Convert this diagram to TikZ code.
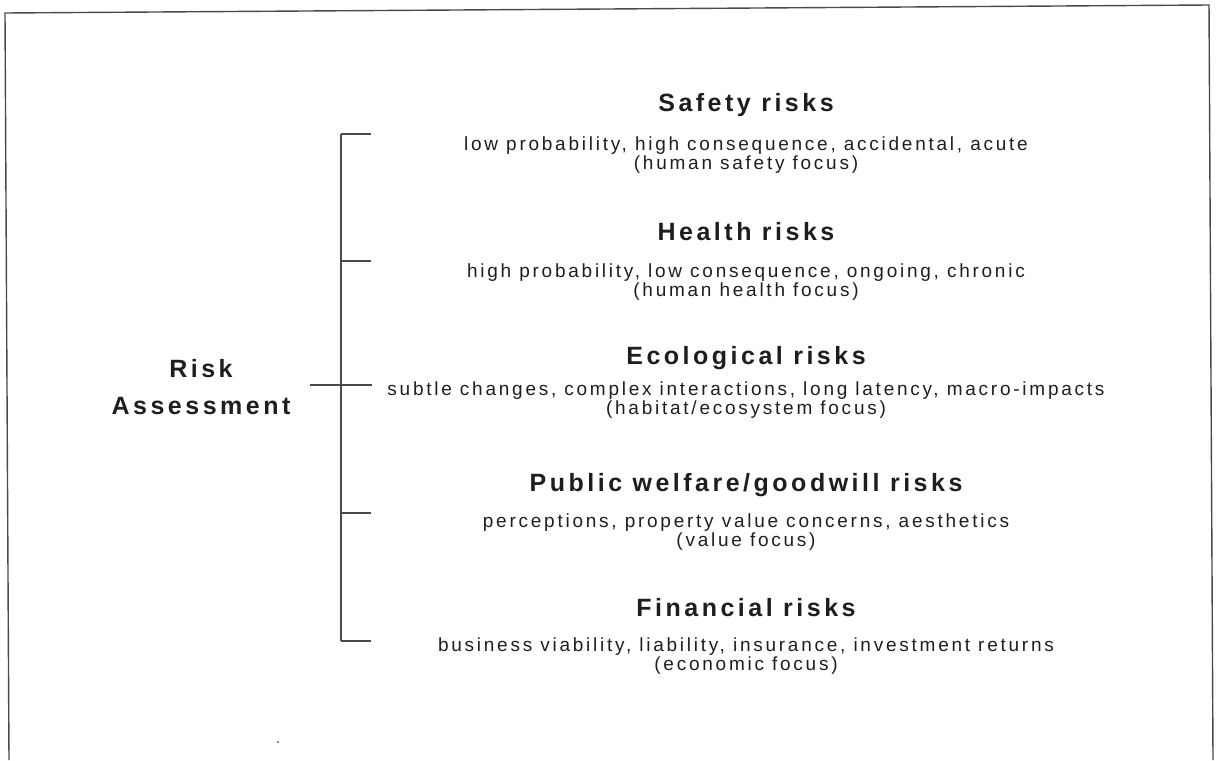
\documentclass[tikz,border=0pt]{standalone}
\usepackage{fontspec}
\newfontfamily\riskfont{Liberation Sans}[LetterSpace=14]
\newfontfamily\notefont{Liberation Sans}[LetterSpace=14.5]
\newcommand\tightlines{\lineskiplimit=-5pt\relax}
\definecolor{ink}{HTML}{1E1E1E}
\definecolor{rule}{HTML}{4A4A4A}

\tikzset{
  head/.style={font=\riskfont\bfseries\fontsize{12.5}{18.5}\selectfont, text=ink, inner sep=0pt, align=center},
  desc/.style={font=\notefont\fontsize{9.5}{9.4}\selectfont\tightlines, text=ink, inner sep=0pt, align=center},
  brace/.style={draw=rule, line width=0.6pt},
}

\begin{document}
\begin{tikzpicture}[x=0.5pt, y=-0.5pt]
\useasboundingbox (0,0) rectangle (1218,760);

%%%%%%%%%%%% Frame
\draw[rule, line width=0.7pt] (9,760) -- (5,13) -- (1209,5) -- (1213,760);
\fill[rule] (278,742) circle (1);

%%%%%%%%%%%% Root
\node[head] (root) at (201,387) {Risk\\Assessment};

%%%%%%%%%%%% Categories
\node[head] (safety) at (746,105) {Safety risks};
\node[desc] (safety-txt) at (746,155) {low probability, high consequence, accidental, acute\\(human safety focus)};

\node[head] (health) at (746,232) {Health risks};
\node[desc] (health-txt) at (746,282) {high probability, low consequence, ongoing, chronic\\(human health focus)};

\node[head] (eco) at (746,358) {Ecological risks};
\node[desc] (eco-txt) at (746,400) {subtle changes, complex interactions, long latency, macro-impacts\\(habitat/ecosystem focus)};

\node[head] (public) at (746,485) {Public welfare/goodwill risks};
\node[desc] (public-txt) at (746,532) {perceptions, property value concerns, aesthetics\\(value focus)};

\node[head] (finance) at (746,608) {Financial risks};
\node[desc] (finance-txt) at (746,656) {business viability, liability, insurance, investment returns\\(economic focus)};

%%%%%%%%%%%% Bracket
\coordinate (top) at (341,134);
\coordinate (bot) at (341,641);
\draw[brace] (top) -- (bot);
\foreach \name/\y in {t1/134, t2/261, t4/513, t5/641} {
  \coordinate (\name) at (371,\y);
  \draw[brace] (\name) -- (341,\y);
}
\coordinate (mid-l) at (310,385);
\coordinate (mid-r) at (372,385);
\draw[brace] (mid-l) -- (mid-r);
\end{tikzpicture}
\end{document}
